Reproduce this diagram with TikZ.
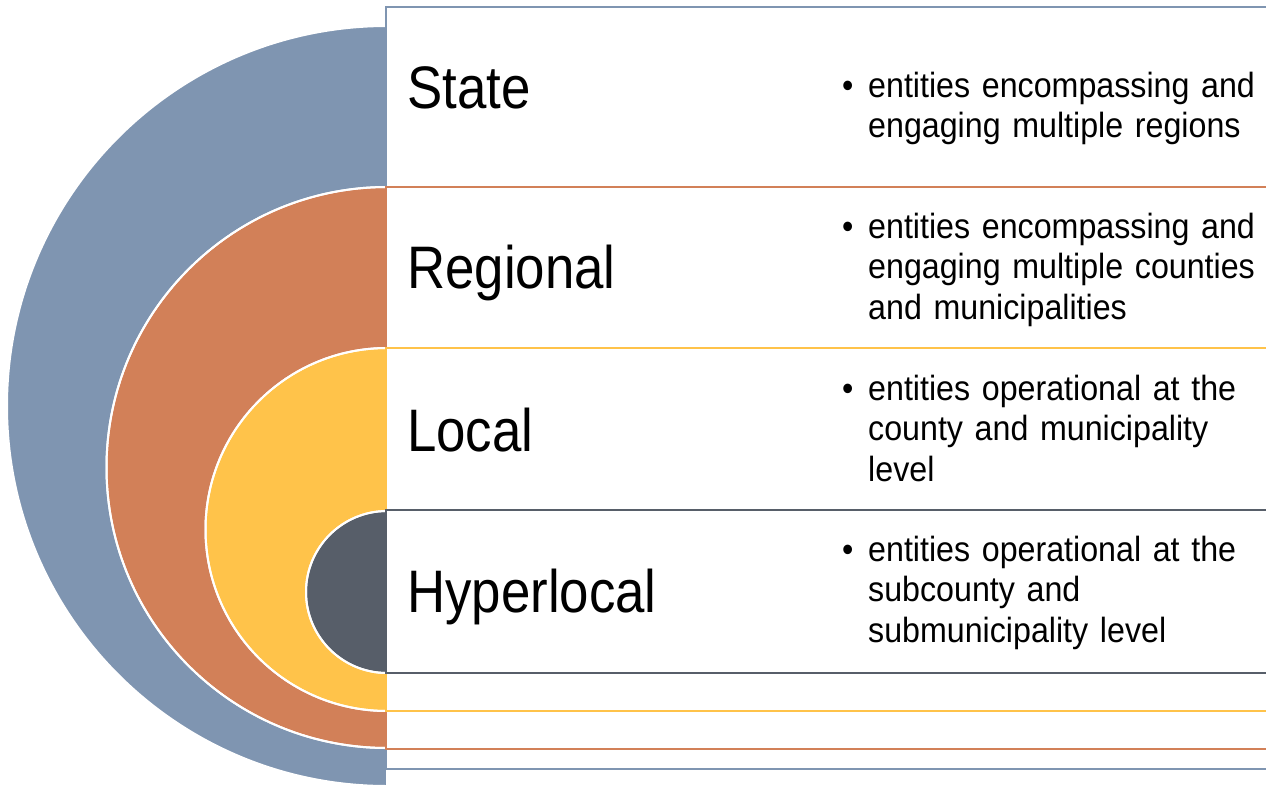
\documentclass[tikz,border=0pt]{standalone}
\usepackage{fontspec}
\setmainfont{Liberation Sans}
\newfontfamily\titlefont[FakeStretch=0.88]{Liberation Sans}
\newfontfamily\bodyfont[FakeStretch=0.92]{Liberation Sans}
\definecolor{cstate}{RGB}{127,149,177}
\definecolor{cregion}{RGB}{210,128,88}
\definecolor{clocal}{RGB}{255,195,74}
\definecolor{chyper}{RGB}{87,94,105}
\tikzset{
  semi/.style={fill=#1, draw=white, line width=2pt},
  band/.style={fill=white, draw=#1, line width=2.5pt},
  title/.style={font=\titlefont\fontsize{60}{66}\selectfont, anchor=base west, inner sep=0pt},
  body/.style={font=\bodyfont\fontsize{35}{40.5}\selectfont, anchor=base west, inner sep=0pt, text width=420pt, align=left},
  bul/.style={font=\bodyfont\fontsize{35}{40.5}\selectfont, anchor=base west, inner sep=0pt}
}
\begin{document}
\begin{tikzpicture}[x=1pt,y=-1pt]
\useasboundingbox (0,0) rectangle (1266,785);
\clip (0,0) rectangle (1266,785);
% semicircles
\fill[semi=cstate] (387,26) arc[start angle=270, end angle=90, radius=380] -- cycle;
\fill[semi=cregion] (387,187) arc[start angle=270, end angle=90, radius=280.5] -- cycle;
\draw[white, line width=2pt] (387,187) arc[start angle=270, end angle=90, radius=280.5];
\fill[semi=clocal] (387,348) arc[start angle=270, end angle=90, radius=181.5] -- cycle;
\draw[white, line width=2pt] (387,348) arc[start angle=270, end angle=90, radius=181.5];
\fill[semi=chyper] (387,511) arc[start angle=270, end angle=90, radius=81] -- cycle;
\draw[white, line width=2pt] (387,511) arc[start angle=270, end angle=90, radius=81];
% bands
\draw[band=cstate] (386,7) rectangle (1290,769);
\draw[band=cregion] (386,187) rectangle (1290,749);
\draw[band=clocal] (386,348) rectangle (1290,711);
\draw[band=chyper] (386,510) rectangle (1290,673);
% titles
\node[title] (tstate) at (407,108) {State};
\node[title] (tregion) at (407,288) {Regional};
\node[title] (tlocal) at (407,451) {Local};
\node[title] (thyper) at (407,612) {Hyperlocal};
% bullets
\node[bul] (bs) at (842,97) {\textbullet};
\node[body] (ds) at (868,97) {entities encompassing and\\engaging multiple regions};
\node[bul] (br) at (842,238) {\textbullet};
\node[body] (dr) at (868,238) {entities encompassing and\\engaging multiple counties\\and municipalities};
\node[bul] (bl) at (842,400) {\textbullet};
\node[body] (dl) at (868,400) {entities operational at the\\county and municipality\\level};
\node[bul] (bh) at (842,561) {\textbullet};
\node[body] (dh) at (868,561) {entities operational at the\\subcounty and\\submunicipality level};
\end{tikzpicture}
\end{document}
